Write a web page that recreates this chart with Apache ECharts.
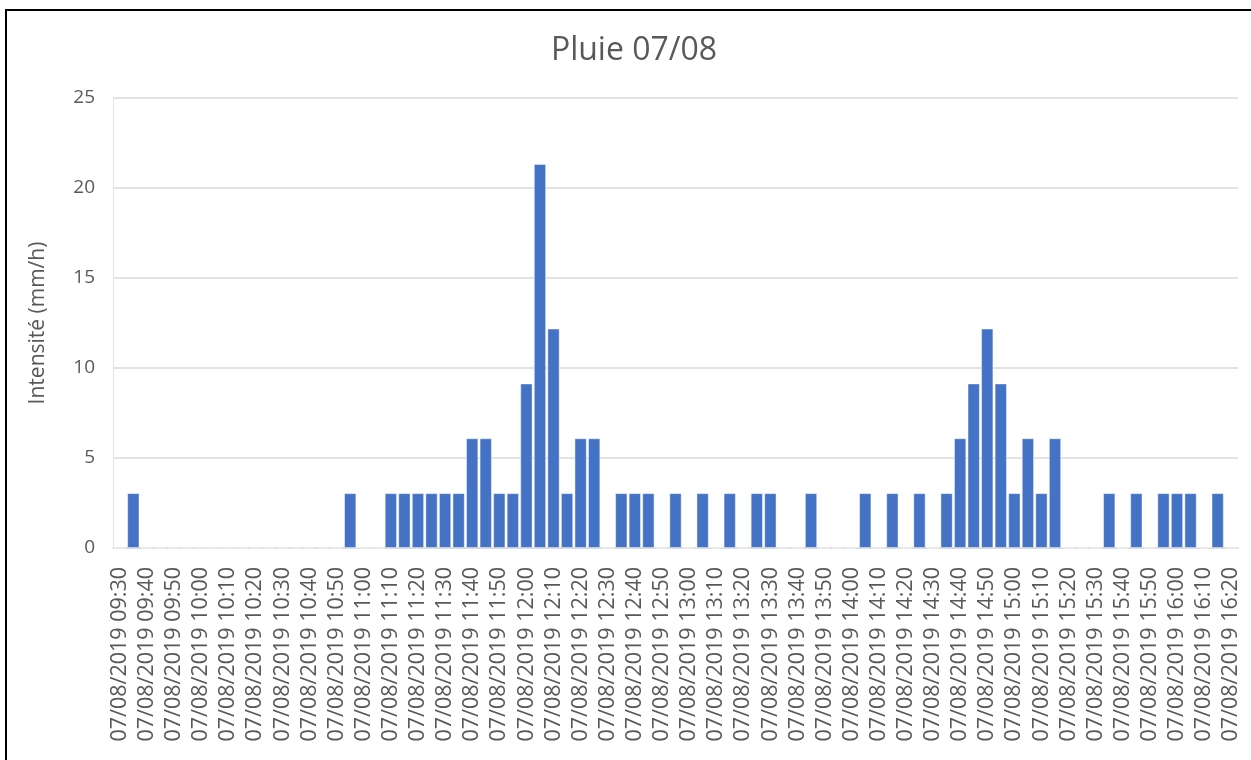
<!DOCTYPE html>
<html>
<head>
<meta charset="utf-8">
<title>Pluie 07/08</title>
<script src="https://cdn.jsdelivr.net/npm/echarts@6/dist/echarts.min.js"></script>
<style>
  html, body { margin: 0; padding: 0; background: #ffffff; }
  #chart { width: 1251px; height: 760px; }
</style>
</head>
<body>
<div id="chart"></div>
<script>
// Rain gauge record for 7 August 2019, 5-minute steps
const day = '07/08/2019';

const times = [
  '09:30','09:35','09:40','09:45','09:50','09:55','10:00','10:05','10:10','10:15','10:20','10:25',
  '10:30','10:35','10:40','10:45','10:50','10:55','11:00','11:05','11:10','11:15','11:20','11:25',
  '11:30','11:35','11:40','11:45','11:50','11:55','12:00','12:05','12:10','12:15','12:20','12:25',
  '12:30','12:35','12:40','12:45','12:50','12:55','13:00','13:05','13:10','13:15','13:20','13:25',
  '13:30','13:35','13:40','13:45','13:50','13:55','14:00','14:05','14:10','14:15','14:20','14:25',
  '14:30','14:35','14:40','14:45','14:50','14:55','15:00','15:05','15:10','15:15','15:20','15:25',
  '15:30','15:35','15:40','15:45','15:50','15:55','16:00','16:05','16:10','16:15','16:20'
];

// Intensity in mm/h for each 5-minute step
const intensite = [
  0, 3.048, 0, 0, 0, 0, 0, 0, 0, 0, 0, 0,
  0, 0, 0, 0, 0, 3.048, 0, 0, 3.048, 3.048, 3.048, 3.048,
  3.048, 3.048, 6.096, 6.096, 3.048, 3.048, 9.144, 21.336, 12.192, 3.048, 6.096, 6.096,
  0, 3.048, 3.048, 3.048, 0, 3.048, 0, 3.048, 0, 3.048, 0, 3.048,
  3.048, 0, 0, 3.048, 0, 0, 0, 3.048, 0, 3.048, 0, 3.048,
  0, 3.048, 6.096, 9.144, 12.192, 9.144, 3.048, 6.096, 3.048, 6.096, 0, 0,
  0, 3.048, 0, 3.048, 0, 3.048, 3.048, 3.048, 0, 3.048, 0
];

const yTicks = [0, 5, 10, 15, 20, 25];

const categories = times.map(t => day + ' ' + t);

const FONT = '"Open Sans", "Noto Sans", sans-serif';
const GREY = '#595959';

const chart = echarts.init(document.getElementById('chart'), null, { renderer: 'canvas' });

chart.setOption({
  backgroundColor: '#ffffff',
  animation: false,
  title: {
    text: 'Pluie 07/08',
    left: 629,
    top: 30,
    textAlign: 'center',
    textStyle: {
      fontFamily: FONT,
      fontSize: 32,
      fontWeight: 'normal',
      color: GREY
    }
  },
  graphic: [{
    type: 'rect',
    shape: { x: 6, y: 10, width: 1300, height: 800 },
    style: { fill: 'none', stroke: '#000000', lineWidth: 2 },
    silent: true
  }],
  grid: {
    left: 113,
    right: 13,
    top: 98,
    bottom: 212,
    containLabel: false,
    outerBoundsMode: 'none'
  },
  xAxis: {
    type: 'category',
    data: categories,
    boundaryGap: true,
    axisLine: { show: true, lineStyle: { color: '#D9D9D9', width: 1.5 } },
    axisTick: { show: false },
    axisLabel: {
      interval: 1,
      rotate: 90,
      margin: 19,
      fontFamily: FONT,
      fontSize: 21.5,
      color: GREY
    },
    splitLine: { show: false }
  },
  yAxis: {
    type: 'value',
    min: yTicks[0],
    max: yTicks[yTicks.length - 1],
    interval: 5,
    name: 'Intensité (mm/h)',
    nameLocation: 'middle',
    nameRotate: 90,
    nameGap: 64,
    nameTextStyle: {
      fontFamily: FONT,
      fontSize: 21,
      color: GREY
    },
    axisLine: { show: true, lineStyle: { color: '#E3E3E3', width: 1 } },
    axisTick: { show: false },
    axisLabel: {
      margin: 18,
      fontFamily: FONT,
      fontSize: 19,
      color: GREY
    },
    splitLine: { show: true, lineStyle: { color: '#D9D9D9', width: 1.5 } }
  },
  series: [{
    type: 'bar',
    name: 'Intensité',
    data: intensite,
    barCategoryGap: '9%',
    itemStyle: {
      color: '#4472C4',
      borderColor: 'rgba(255,255,255,0.45)',
      borderWidth: 1
    }
  }]
});
</script>
</body>
</html>
